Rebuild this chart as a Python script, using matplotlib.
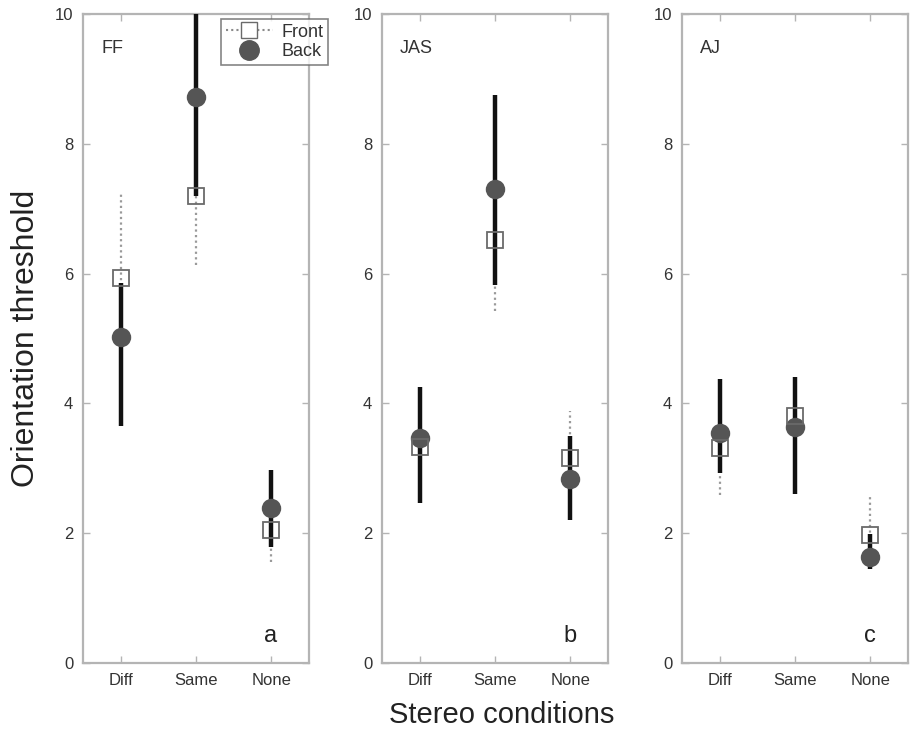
"""Orientation thresholds by stereo condition, three observers."""

import matplotlib
matplotlib.use("Agg")
import matplotlib.pyplot as plt
from matplotlib.lines import Line2D

conditions = ["Diff", "Same", "None"]
observers = ["FF", "JAS", "AJ"]
panel_letters = ["a", "b", "c"]

# front (open squares, dotted bars)
front_ff = [5.93, 7.20, 2.05]
front_ff_lo = [4.70, 6.13, 1.56]
front_ff_hi = [7.26, 8.30, 2.60]
front_jas = [3.33, 6.52, 3.16]
front_jas_lo = [2.80, 5.43, 2.50]
front_jas_hi = [3.90, 7.60, 3.88]
front_aj = [3.31, 3.81, 1.97]
front_aj_lo = [2.59, 3.10, 1.50]
front_aj_hi = [4.00, 4.30, 2.61]

# back (filled circles, solid bars)
back_ff = [5.02, 8.72, 2.39]
back_ff_lo = [3.65, 7.20, 1.79]
back_ff_hi = [5.85, 10.60, 2.97]
back_jas = [3.47, 7.31, 2.83]
back_jas_lo = [2.47, 5.83, 2.20]
back_jas_hi = [4.26, 8.75, 3.50]
back_aj = [3.54, 3.64, 1.63]
back_aj_lo = [2.92, 2.61, 1.45]
back_aj_hi = [4.38, 4.40, 1.98]

front = [(front_ff, front_ff_lo, front_ff_hi),
         (front_jas, front_jas_lo, front_jas_hi),
         (front_aj, front_aj_lo, front_aj_hi)]
back = [(back_ff, back_ff_lo, back_ff_hi),
        (back_jas, back_jas_lo, back_jas_hi),
        (back_aj, back_aj_lo, back_aj_hi)]

plt.rcParams["font.family"] = ["Liberation Sans", "DejaVu Sans"]

FRAME = "#b4b4b4"
TEXT = "#333333"

fig = plt.figure(figsize=(9.15, 7.4), dpi=100)
lefts = [83 / 915, 382 / 915, 682 / 915]
bottom, height = 1 - 663 / 740, 649 / 740
width = 226 / 915

x = [1, 2, 3]
for i, (left, name, letter) in enumerate(zip(lefts, observers, panel_letters)):
    ax = fig.add_axes([left, bottom, width, height])
    fy, flo, fhi = front[i]
    by, blo, bhi = back[i]

    ax.vlines(x, flo, fhi, colors="#9a9a9a", linestyles=(0, (1, 1.5)),
              linewidth=1.6, zorder=2)
    ax.vlines(x, blo, bhi, colors="#111111", linewidth=3.2, zorder=3)
    ax.plot(x, by, "o", color="#555555", markersize=14, markeredgewidth=0,
            zorder=4)
    ax.plot(x, fy, "s", markerfacecolor="none", markeredgecolor="#6a6a6a",
            markersize=11, markeredgewidth=1.3, zorder=5)

    ax.set_xlim(0.5, 3.5)
    ax.set_ylim(0, 10)
    ax.set_xticks(x)
    ax.set_xticklabels(conditions)
    ax.set_yticks(range(0, 11, 2))
    ax.tick_params(direction="in", length=5, width=1, color=FRAME,
                   labelsize=12, labelcolor=TEXT, top=True, right=True, pad=7)
    for sp in ax.spines.values():
        sp.set_color(FRAME)
        sp.set_linewidth(1.6)

    ax.text(0.08, 0.96, name, transform=ax.transAxes, fontsize=13,
            color=TEXT, va="top", ha="left")
    ax.text(0.83, 0.025, letter, transform=ax.transAxes, fontsize=17,
            color="#222222", va="bottom", ha="center")

    if i == 0:
        ax.set_ylabel("Orientation threshold", fontsize=23, color="#222222",
                      labelpad=10)
        handles = [
            Line2D([0], [0], color="#8a8a8a", linestyle=(0, (1, 1.5)),
                   marker="s", markerfacecolor="white",
                   markeredgecolor="#6a6a6a", markersize=11),
            Line2D([0], [0], linestyle="none", marker="o", color="#555555",
                   markersize=14),
        ]
        leg = ax.legend(handles, ["Front", "Back"], loc="upper right",
                        bbox_to_anchor=(1.085, 0.992), fontsize=13,
                        frameon=True, fancybox=False, handlelength=2.6,
                        handletextpad=0.5, borderpad=0.25, labelspacing=0.15,
                        borderaxespad=0)
        leg.get_frame().set_edgecolor("#666666")
        leg.get_frame().set_linewidth(1.2)
        for t in leg.get_texts():
            t.set_color(TEXT)

fig.text(0.548, 0.015, "Stereo conditions", ha="center", va="bottom",
         fontsize=21, color="#222222")

fig.savefig("out.png", dpi=100)
plt.close(fig)
